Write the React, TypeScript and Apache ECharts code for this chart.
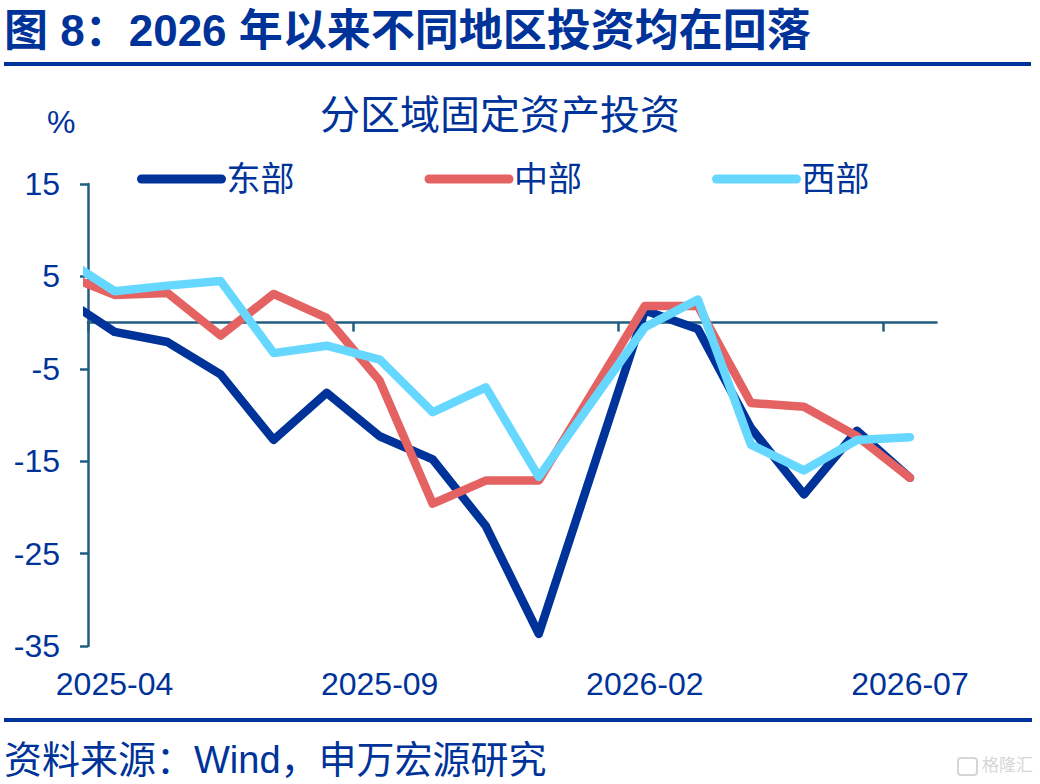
import React, { useEffect, useRef } from 'react';
import * as echarts from 'echarts';

// Monthly categories shown on the axis (2026-01 is folded into 2026-02)
const months = [
  '2025-04', '2025-05', '2025-06', '2025-07', '2025-08', '2025-09', '2025-10', '2025-11',
  '2025-12', '2026-01', '2026-02', '2026-03', '2026-04', '2026-05', '2026-06', '2026-07',
];
// The month before the first category: its segment is cut by the y axis
const leadMonth = '2025-03';

const labelMonths = ['2025-04', '2025-09', '2026-02', '2026-07'];
const yTicks = [-35, -25, -15, -5, 5, 15];

// Values in %, one per month; null where there is no reading
const eastLead = 2.8;
const east = [-1.0, -2.1, -5.6, -12.7, -7.6, -12.3, -14.8, -22.0, -33.7, null, 1.3, -0.7, -11.4, -18.6, -11.7, -16.8];
const centralLead = 5.3;
const central = [3.0, 3.2, -1.4, 3.1, 0.5, -6.3, -19.6, -17.1, -17.1, null, 1.8, 1.8, -8.7, -9.1, -12.3, -16.8];
const westLead = 7.1;
const west = [3.4, 4.0, 4.5, -3.3, -2.5, -4.0, -9.7, -7.0, -16.7, null, -0.5, 2.5, -13.2, -16.0, -12.7, -12.4];

const seriesNames = ['东部', '中部', '西部'];
const seriesColors = ['#003399', '#E56262', '#66D8FF'];

const BLUE = '#003399';
const AXIS = '#215D80';
const LATIN = '"Liberation Sans", Arial, "Noto Sans CJK SC", sans-serif';
const CJK = '"Liberation Sans", "Noto Sans CJK SC", sans-serif';

function toPoints(lead: number, values: (number | null)[]) {
  const pts: [number, number][] = [[-1, lead]];
  values.forEach((v, i) => {
    if (v !== null) pts.push([i, v]);
  });
  return pts;
}

function buildOption(): echarts.EChartsCoreOption {
  const labelIdx = labelMonths.map((m) => months.indexOf(m));
  const tickPos = labelIdx.map((i) => i - 0.5);
  const all = [
    toPoints(eastLead, east),
    toPoints(centralLead, central),
    toPoints(westLead, west),
  ];

  return {
    animation: false,
    backgroundColor: '#ffffff',
    title: [
      {
        text: '图 8：2026 年以来不同地区投资均在回落',
        left: 4,
        top: 8,
        padding: 0,
        textStyle: { fontSize: 44, fontWeight: 'bold', color: BLUE, fontFamily: CJK },
      },
      {
        text: '分区域固定资产投资',
        left: 320,
        top: 95,
        padding: 0,
        textStyle: { fontSize: 40, fontWeight: 'normal', color: BLUE, fontFamily: CJK },
      },
      {
        text: '%',
        left: 47,
        top: 106,
        padding: 0,
        textStyle: { fontSize: 32, fontWeight: 'normal', color: BLUE, fontFamily: LATIN },
      },
      {
        text: '资料来源：Wind，申万宏源研究',
        left: 4,
        top: 741,
        padding: 0,
        textStyle: { fontSize: 38, fontWeight: 'normal', color: BLUE, fontFamily: CJK },
      },
      {
        text: '格隆汇',
        left: 982,
        top: 757,
        padding: 0,
        textStyle: { fontSize: 17, fontWeight: 'normal', color: '#d6d6d6', fontFamily: CJK },
      },
    ],
    graphic: [
      { type: 'rect', shape: { x: 4, y: 62, width: 1027, height: 4 }, style: { fill: BLUE } },
      { type: 'rect', shape: { x: 4, y: 718, width: 1028, height: 4 }, style: { fill: BLUE } },
      {
        type: 'rect',
        shape: { x: 958, y: 758, width: 19, height: 17, r: 3 },
        style: { fill: 'none', stroke: '#d6d6d6', lineWidth: 2 },
      },
    ],
    legend: {
      data: seriesNames,
      left: 137,
      top: 162,
      padding: 0,
      itemWidth: 80,
      itemHeight: 14,
      itemGap: 130,
      lineStyle: { width: 9, cap: 'round' },
      itemStyle: { opacity: 0 },
      textStyle: { fontSize: 34, color: BLUE, fontFamily: CJK },
    },
    grid: { left: 88, right: 103.5, top: 184, bottom: 138, containLabel: false },
    xAxis: [
      {
        type: 'value',
        position: 'bottom',
        min: -0.5,
        max: months.length - 0.5,
        axisLine: { show: true, onZero: true, lineStyle: { color: AXIS, width: 2.5 } },
        axisTick: { show: true, customValues: tickPos, length: 9, lineStyle: { color: AXIS, width: 2.5 } },
        axisLabel: { show: false },
        splitLine: { show: false },
      },
      {
        type: 'value',
        position: 'bottom',
        min: -0.5,
        max: months.length - 0.5,
        axisLine: { show: false, onZero: false },
        axisTick: { show: false },
        axisLabel: {
          show: true,
          customValues: labelIdx,
          formatter: (v: number) => months[Math.round(v)] ?? '',
          fontSize: 32,
          color: BLUE,
          fontFamily: LATIN,
          margin: 22,
        },
        splitLine: { show: false },
      },
    ],
    yAxis: {
      type: 'value',
      min: yTicks[0],
      max: yTicks[yTicks.length - 1],
      interval: 10,
      axisLine: { show: true, onZero: false, lineStyle: { color: AXIS, width: 2.5 } },
      axisTick: { show: true, length: 8, lineStyle: { color: AXIS, width: 2.5 } },
      axisLabel: { fontSize: 32, color: BLUE, fontFamily: LATIN, margin: 28 },
      splitLine: { show: false },
    },
    series: seriesNames.map((name, k) => ({
      name,
      type: 'line',
      xAxisIndex: 0,
      yAxisIndex: 0,
      data: all[k],
      symbol: 'none',
      clip: true,
      itemStyle: { color: seriesColors[k] },
      lineStyle: { color: seriesColors[k], width: 8.5, cap: 'round', join: 'round' },
      z: 2 + k,
    })),
  };
}

export default function App() {
  const ref = useRef<HTMLDivElement>(null);

  useEffect(() => {
    document.body.style.margin = '0';
    if (!ref.current) return;
    const chart = echarts.init(ref.current, null, { renderer: 'svg' });
    chart.setOption(buildOption());
    return () => {
      chart.dispose();
    };
  }, []);

  return <div ref={ref} style={{ width: 1040, height: 784 }} />;
}
